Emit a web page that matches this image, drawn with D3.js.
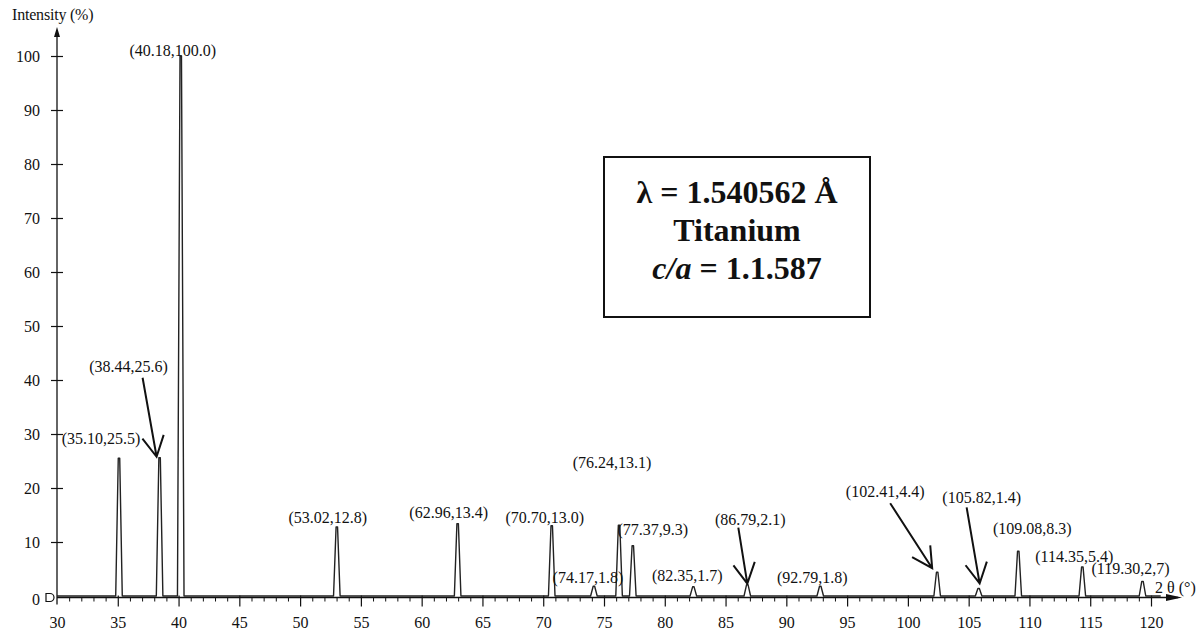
<!DOCTYPE html>
<html><head><meta charset="utf-8">
<script src="https://cdn.jsdelivr.net/npm/d3@7"></script>
<style>
body{margin:0;background:#fff;}
svg{display:block;}
text{font-family:"Liberation Serif","Times New Roman",serif;fill:#111;}
</style>
</head><body>
<svg id="chart" width="1199" height="635"></svg>
<script>
// ---- data ----
const peakPositions   = [35.10, 38.44, 40.18, 53.02, 62.96, 70.70, 74.17, 76.24, 77.37, 82.35, 86.79, 92.79, 102.41, 105.82, 109.08, 114.35, 119.30];
const peakIntensities = [25.5, 25.6, 100.0, 12.8, 13.4, 13.0, 1.8, 13.1, 9.3, 1.7, 2.1, 1.8, 4.4, 1.4, 8.3, 5.4, 2.7];
const peakLabels = ["(35.10,25.5)","(38.44,25.6)","(40.18,100.0)","(53.02,12.8)","(62.96,13.4)","(70.70,13.0)","(74.17,1.8)","(76.24,13.1)","(77.37,9.3)","(82.35,1.7)","(86.79,2.1)","(92.79,1.8)","(102.41,4.4)","(105.82,1.4)","(109.08,8.3)","(114.35,5.4)","(119.30,2,7)"];
const xTickValues = [30, 35, 40, 45, 50, 55, 60, 65, 70, 75, 80, 85, 90, 95, 100, 105, 110, 115, 120];
const yTickValues = [0, 10, 20, 30, 40, 50, 60, 70, 80, 90, 100];
const xAxisTitle = "2 θ (°)";
const yAxisTitle = "Intensity (%)";
const infoLines = ["λ = 1.540562 Å", "Titanium", "c/a = 1.1.587"];

// ---- layout (pixel offsets of labels / arrows relative to the peak top) ----
const labelOffsets = [[-18,-20],[-31,-91],[-8,-6],[-9,-9],[-9,-11],[-7,-8],[-6,-9],[-7,-63],[20,-16],[-6,-11],[3,-65],[-8,-9],[-52,-81],[3,-91],[14,-23],[-8,-10],[-12,-13]];
const arrowSpecs = {1:[-17,-80,-3,-1], 10:[-9,-57,0,-1], 12:[-47,-69,-5,-4], 13:[-12,-81,1,-5]};

const svg = d3.select("#chart");
const x = d3.scaleLinear().domain([30, 120]).range([57, 1151]);
const y = d3.scaleLinear().domain([0, 100]).range([596, 56]);
const xEnd = x.invert(1182);
const axisY = y(0) + 1.5;
const ink = "#111";

// y axis line with arrow
svg.append("line").attr("x1", x(30)).attr("x2", x(30)).attr("y1", axisY + 7).attr("y2", 30)
  .attr("stroke", ink).attr("stroke-width", 1.3);
svg.append("path").attr("d", `M${x(30)},27 L${x(30)-3},37 L${x(30)+3},37 Z`).attr("fill", ink);

// x axis line with arrow
svg.append("line").attr("x1", x(30)).attr("x2", x(xEnd) - 4).attr("y1", axisY).attr("y2", axisY)
  .attr("stroke", ink).attr("stroke-width", 1.5);
svg.append("path").attr("d", `M${x(xEnd)},${axisY} L${x(xEnd)-16},${axisY-3.5} L${x(xEnd)-16},${axisY+3.5} Z`).attr("fill", ink);

// origin marker
svg.append("path").attr("d", `M${x(30)-11},${axisY-4} L${x(30)-7},${axisY-4} A4,4 0 0 1 ${x(30)-7},${axisY+4} L${x(30)-11},${axisY+4} Z`)
  .attr("fill", "#fff").attr("stroke", ink).attr("stroke-width", 1.2);

// x minor ticks
const minorTicks = d3.range(31, 121, 1).filter(v => v % 5 !== 0);
const gMinor = svg.append("g").attr("transform", `translate(0,${axisY})`)
  .call(d3.axisBottom(x).tickValues(minorTicks).tickSize(4).tickFormat(""));
gMinor.select(".domain").remove();
gMinor.selectAll(".tick line").attr("stroke", ink);

// x major ticks
const gx = svg.append("g").attr("transform", `translate(0,${axisY})`)
  .call(d3.axisBottom(x).tickValues(xTickValues).tickSize(9).tickPadding(10).tickFormat(d3.format("d")));
gx.select(".domain").remove();
gx.selectAll(".tick line").attr("stroke", ink).attr("y1", -2).attr("stroke-width", 1.2);
gx.selectAll(".tick").filter(d => d === 30).select("line").remove();
gx.selectAll(".tick text").attr("font-size", 16).attr("font-family", "Liberation Serif, serif").attr("fill", ink);

// y ticks
const gy = svg.append("g").attr("transform", `translate(${x(30)},0)`)
  .call(d3.axisLeft(y).tickValues(yTickValues).tickSize(6).tickPadding(11));
gy.select(".domain").remove();
gy.selectAll(".tick line").attr("x1", 6).attr("stroke", ink).attr("stroke-width", 1.2);
gy.selectAll(".tick").filter(d => d === 0).select("line").remove();
gy.selectAll(".tick text").attr("font-size", 16).attr("font-family", "Liberation Serif, serif").attr("fill", ink);
gy.selectAll(".tick").filter(d => d === 0).select("text").attr("dy", "0.55em");

// axis titles
svg.append("text").attr("x", 12).attr("y", 20).attr("font-size", 16).attr("letter-spacing", -0.2).text(yAxisTitle);
svg.append("text").attr("x", 1155).attr("y", 593).attr("font-size", 16).text(xAxisTitle);

// spectrum
const pts = [[30, 0]];
peakPositions.forEach((p, i) => {
  const I = peakIntensities[i];
  pts.push([p - 0.27, 0], [p - 0.06, I], [p + 0.06, I], [p + 0.27, 0]);
});
pts.push([120.8, 0]);
svg.append("path").datum(pts)
  .attr("d", d3.line().x(d => x(d[0])).y(d => y(d[1])))
  .attr("fill", "none").attr("stroke", "#222").attr("stroke-width", 1.4).attr("stroke-linejoin", "round");

// arrows
Object.entries(arrowSpecs).forEach(([k, s]) => {
  const i = +k;
  const px = x(peakPositions[i]), py = y(peakIntensities[i]);
  const sx = px + s[0], sy = py + s[1], tx = px + s[2], ty = py + s[3];
  const ang = Math.atan2(sy - ty, sx - tx);
  const L = 23, spread = 28 * Math.PI / 180;
  const a1 = [tx + L * Math.cos(ang - spread), ty + L * Math.sin(ang - spread)];
  const a2 = [tx + L * Math.cos(ang + spread), ty + L * Math.sin(ang + spread)];
  svg.append("path")
    .attr("d", `M${sx},${sy} L${tx},${ty} M${a1[0]},${a1[1]} L${tx},${ty} L${a2[0]},${a2[1]}`)
    .attr("fill", "none").attr("stroke", ink).attr("stroke-width", 2);
});

// peak labels
svg.append("g").selectAll("text").data(peakLabels).join("text")
  .attr("x", (d, i) => x(peakPositions[i]) + labelOffsets[i][0])
  .attr("y", (d, i) => y(peakIntensities[i]) + labelOffsets[i][1])
  .attr("dy", "0.35em").attr("text-anchor", "middle").attr("font-size", 16)
  .text(d => d);

// info box
const box = svg.append("g");
box.append("rect").attr("x", 604).attr("y", 157).attr("width", 266).attr("height", 160)
  .attr("fill", "#fff").attr("stroke", ink).attr("stroke-width", 2);
const centers = [192, 230, 268];
infoLines.forEach((t, i) => {
  const tx = box.append("text").attr("x", 737).attr("y", centers[i]).attr("dy", "0.35em")
    .attr("text-anchor", "middle").attr("font-size", 32).attr("font-weight", "bold");
  if (i === 2) {
    tx.append("tspan").attr("font-style", "italic").text(t.slice(0, 3));
    tx.append("tspan").text(t.slice(3));
  } else tx.text(t);
});
</script>
</body></html>
